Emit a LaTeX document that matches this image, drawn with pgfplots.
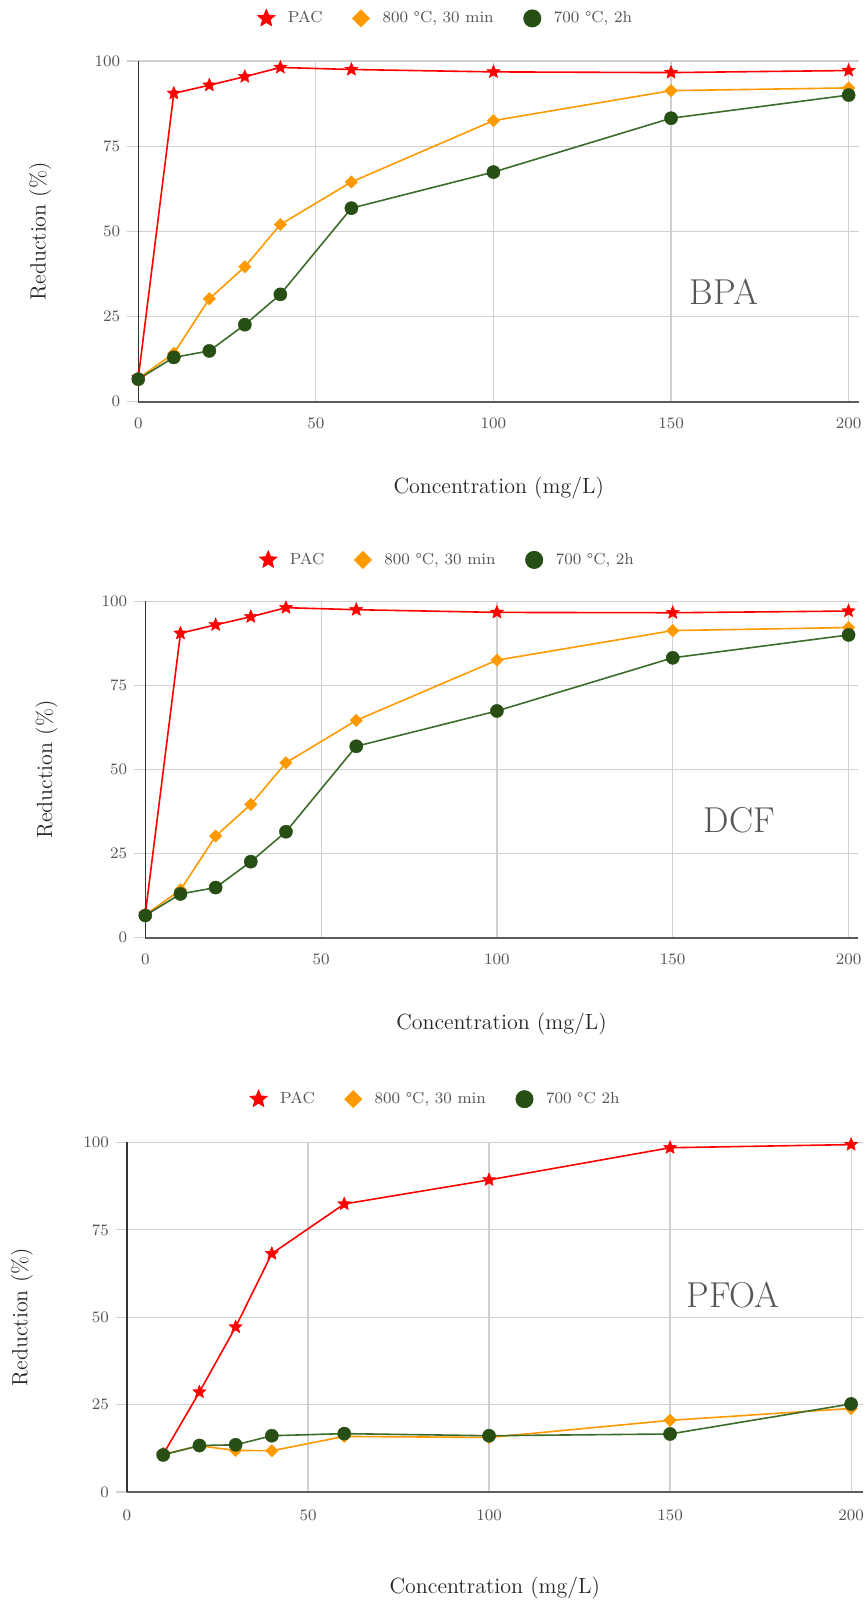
\documentclass[border=0pt]{standalone}
\usepackage{fontspec}
\usepackage{pgfplots}
\pgfplotsset{compat=1.18}
\usetikzlibrary{plotmarks}

\definecolor{pacred}{HTML}{FF0000}
\definecolor{orng}{HTML}{FF9900}
\definecolor{dgreen}{HTML}{274E13}
\definecolor{lgreen}{HTML}{3D6B2A}
\definecolor{gridgray}{HTML}{D0D0D0}
\definecolor{axisgray}{HTML}{333333}
\definecolor{txtgray}{HTML}{555555}

\pgfdeclareplotmark{fstar}{%
 \pgfpathmoveto{\pgfpointpolar{90}{\pgfplotmarksize}}%
 \pgfpathlineto{\pgfpointpolar{126}{0.45\pgfplotmarksize}}%
 \pgfpathlineto{\pgfpointpolar{162}{\pgfplotmarksize}}%
 \pgfpathlineto{\pgfpointpolar{198}{0.45\pgfplotmarksize}}%
 \pgfpathlineto{\pgfpointpolar{234}{\pgfplotmarksize}}%
 \pgfpathlineto{\pgfpointpolar{270}{0.45\pgfplotmarksize}}%
 \pgfpathlineto{\pgfpointpolar{306}{\pgfplotmarksize}}%
 \pgfpathlineto{\pgfpointpolar{342}{0.45\pgfplotmarksize}}%
 \pgfpathlineto{\pgfpointpolar{18}{\pgfplotmarksize}}%
 \pgfpathlineto{\pgfpointpolar{54}{0.45\pgfplotmarksize}}%
 \pgfpathclose
 \pgfusepathqfillstroke}

\pgfplotsset{
 panel/.style={
  scale only axis,
  xmin=0, ymin=0, ymax=100,
  axis x line*=bottom, axis y line*=left,
  axis line style={-},
  x axis line style={draw=axisgray!80, line width=1.1pt},
  y axis line style={draw=axisgray, line width=0.8pt},
  xtick={0,50,100,150,200}, ytick={0,25,50,75,100},
  grid=major, grid style={gridgray, line width=0.6pt},
  xtick style={draw=none},
  ytick style={draw=gridgray, line width=0.6pt},
  tick align=outside, major tick length=5.5pt,
  tick label style={font=\fontsize{8.3}{10}\selectfont, text=txtgray},
  label style={font=\fontsize{11}{13}\selectfont, text=black!85},
  xlabel={Concentration (mg/L)},
  ylabel={Reduction (\%)},
  clip=false,
  legend columns=3,
  legend style={draw=none, fill=none, font=\fontsize{8}{10}\selectfont, text=txtgray,
    /tikz/every odd column/.append style={column sep=4.5pt},
    /tikz/every even column/.append style={column sep=13pt}},
  legend cell align=left,
 },
 pac/.style={pacred, line width=0.8pt, mark=fstar, mark size=3.5pt,
   mark options={solid, fill=pacred, draw=pacred, line width=0.2pt}},
 ora/.style={orng, line width=0.8pt, mark=square*, mark size=2.2pt,
   mark options={solid, rotate=45, fill=orng, draw=orng, line width=0.2pt}},
 grn/.style={lgreen, line width=0.8pt, mark=*, mark size=3.3pt,
   mark options={solid, fill=dgreen, draw=dgreen, line width=0.2pt}},
 lpac/.style={only marks, mark=fstar, mark size=4.5pt, mark options={fill=pacred, draw=pacred}},
 lora/.style={only marks, mark=square*, mark size=3pt, mark options={rotate=45, fill=orng, draw=orng}},
 lgrn/.style={only marks, mark=*, mark size=4.3pt, mark options={fill=dgreen, draw=dgreen}},
}

\pgfplotstableread{
x pac ora grn
0 7 6.8 6.6
10 90.5 14.2 13
20 92.9 30.2 14.9
30 95.4 39.6 22.6
40 98.1 52 31.5
60 97.5 64.5 56.8
100 96.8 82.5 67.4
150 96.6 91.3 83.2
200 97.2 92.1 90
}\bpa

\pgfplotstableread{
x pac ora grn
0 7 6.8 6.6
10 90.5 14.2 13
20 93 30.2 14.9
30 95.4 39.6 22.6
40 98.1 52 31.5
60 97.5 64.6 56.9
100 96.7 82.5 67.4
150 96.6 91.3 83.2
200 97.1 92.2 90
}\dcf

\pgfplotstableread{
x pac ora grn
10 10.8 10.8 10.6
20 28.6 13.2 13.3
30 47.2 11.9 13.5
40 68.2 11.8 16.1
60 82.4 15.9 16.7
100 89.3 15.6 16.1
150 98.5 20.5 16.6
200 99.4 23.9 25.2
}\pfoa

\begin{document}
\begin{tikzpicture}
\useasboundingbox (0,0) rectangle (432.5pt,801pt);

% Panel 1 BPA
\begin{axis}[panel, at={(69.15pt,600.15pt)}, anchor=south west,
  width=360.5pt, height=170.35pt, xmax=203,
  xticklabel style={yshift=1pt},
  xlabel style={at={(axis description cs:0.5,-0.2524)}, anchor=center},
  ylabel style={at={(axis description cs:-0.136,0.5)}, anchor=center},
  legend style={at={(0.428,1.125)}, anchor=center}]
\addlegendimage{lpac}\addlegendentry{PAC}
\addlegendimage{lora}\addlegendentry{800 \textdegree C, 30 min}
\addlegendimage{lgrn}\addlegendentry{700 \textdegree C, 2h}
\addplot[pac, forget plot] table[x=x,y=pac]{\bpa};
\addplot[ora, forget plot] table[x=x,y=ora]{\bpa};
\addplot[grn, forget plot] table[x=x,y=grn]{\bpa};
\node[font=\fontsize{18}{20}\selectfont, text=txtgray] at (axis cs:164.9,32.3) {BPA};
\end{axis}

% Panel 2 DCF
\begin{axis}[panel, at={(72.65pt,332.15pt)}, anchor=south west,
  width=356.2pt, height=168.2pt, xmax=202.6,
  xticklabel style={yshift=1pt},
  xlabel style={at={(axis description cs:0.5,-0.2556)}, anchor=center},
  ylabel style={at={(axis description cs:-0.1384,0.5)}, anchor=center},
  legend style={at={(0.426,1.123)}, anchor=center}]
\addlegendimage{lpac}\addlegendentry{PAC}
\addlegendimage{lora}\addlegendentry{800 \textdegree C, 30 min}
\addlegendimage{lgrn}\addlegendentry{700 \textdegree C, 2h}
\addplot[pac, forget plot] table[x=x,y=pac]{\dcf};
\addplot[ora, forget plot] table[x=x,y=ora]{\dcf};
\addplot[grn, forget plot] table[x=x,y=grn]{\dcf};
\node[font=\fontsize{18}{20}\selectfont, text=txtgray] at (axis cs:168.9,35) {DCF};
\end{axis}

% Panel 3 PFOA
\begin{axis}[panel, at={(63.5pt,55pt)}, anchor=south west,
  width=367.85pt, height=174.75pt, xmax=203.2,
  xlabel style={at={(axis description cs:0.5,-0.2747)}, anchor=center},
  ylabel style={at={(axis description cs:-0.143,0.5)}, anchor=center},
  legend style={at={(0.421,1.124)}, anchor=center}]
\addlegendimage{lpac}\addlegendentry{PAC}
\addlegendimage{lora}\addlegendentry{800 \textdegree C, 30 min}
\addlegendimage{lgrn}\addlegendentry{700 \textdegree C 2h}
\addplot[pac, forget plot] table[x=x,y=pac]{\pfoa};
\addplot[ora, forget plot] table[x=x,y=ora]{\pfoa};
\addplot[grn, forget plot] table[x=x,y=grn]{\pfoa};
\node[font=\fontsize{18}{20}\selectfont, text=txtgray] at (axis cs:167.4,56.4) {PFOA};
\end{axis}
\end{tikzpicture}
\end{document}
